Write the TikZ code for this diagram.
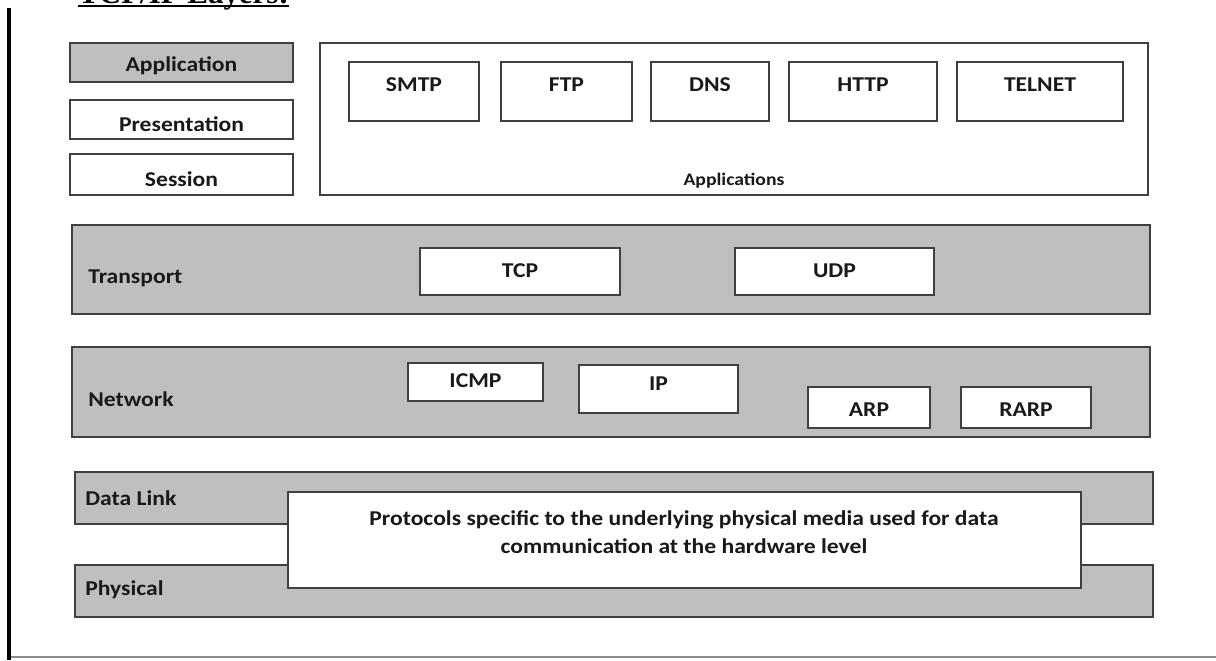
\documentclass[tikz,border=0pt]{standalone}
\usepackage{fontspec}
\setmainfont{Carlito}[FakeStretch=1.12]
\newfontfamily\titlefont{Liberation Serif}
\usetikzlibrary{calc,fit,positioning}
\definecolor{layer-gray}{HTML}{BFBFBF}
\definecolor{layer-edge}{HTML}{404040}
\definecolor{frame-gray}{HTML}{8C8C8C}

\begin{document}
\begin{tikzpicture}[x=0.025cm, y=-0.025cm,
  band/.style={draw=layer-edge, fill=layer-gray, line width=1pt, inner sep=0pt},
  proto/.style={draw=layer-edge, fill=white, line width=0.9pt, inner sep=0pt},
  lbl/.style={font=\fontsize{15}{18}\selectfont\bfseries, text=black!90, inner sep=0pt},
  small lbl/.style={font=\fontsize{12.5}{15}\selectfont\bfseries, text=black!90, inner sep=0pt}]
  \useasboundingbox (0,0) rectangle (1216,660);

  % page frame
  \draw[frame-gray, line width=1pt] (9,657) -- (1216,657);
  \draw[black, line width=2.2pt] (9,8) -- (9,660);

  % title, cut off by the page edge
  \node[anchor=base west, inner sep=0pt, font=\titlefont\fontsize{22}{26}\selectfont\bfseries] (title) at (78,3.5) {TCP/IP Layers:};
  \draw[line width=2pt] ($(title.base west)+(0,2.5)$) -- ($(title.base east)+(0,2.5)$);

  % upper OSI layers
  \node[band, fit={(70,43) (293,82)}] (app) {};
  \node[proto, fit={(70,100) (293,139)}] (pres) {};
  \node[proto, fit={(70,154) (293,195)}] (sess) {};
  \node[lbl] (app-t) at (181.5,66) {Application};
  \node[lbl] (pres-t) at (181.5,124) {Presentation};
  \node[lbl] (sess-t) at (181.5,179.5) {Session};

  % applications
  \node[proto, fit={(320,43) (1148,195)}] (apps) {};
  \node[small lbl] (apps-t) at (734,180.5) {Applications};
  \foreach \name/\xa/\xb/\txt in {smtp/349/479/SMTP, ftp/501/632/FTP, dns/651/769/DNS,
      http/789/937/HTTP, telnet/957/1123/TELNET} {
    \node[proto, fit={(\xa,62) (\xb,121)}] (\name) {};
    \node[lbl] (\name-t) at ($(\name.north)+(0,23.5)$) {\txt};
  }

  % transport
  \node[band, fit={(72,225) (1150,314)}] (transport) {};
  \node[lbl, anchor=west] (transport-t) at (88,278.5) {Transport};
  \node[proto, fit={(420,248) (620,295)}] (tcp) {};
  \node[proto, fit={(735,248) (934,295)}] (udp) {};
  \node[lbl] (tcp-t) at ($(tcp.north)+(0,23.5)$) {TCP};
  \node[lbl] (udp-t) at ($(udp.north)+(0,23.5)$) {UDP};

  % network
  \node[band, fit={(72,347) (1150,437)}] (network) {};
  \node[lbl, anchor=west] (network-t) at (88,399.5) {Network};
  \node[proto, fit={(408,363) (543,401)}] (icmp) {};
  \node[proto, fit={(579,365) (738,413)}] (ip) {};
  \node[proto, fit={(808,387) (930,428)}] (arp) {};
  \node[proto, fit={(961,387) (1091,428)}] (rarp) {};
  \node[lbl] (icmp-t) at ($(icmp.north)+(0,18.5)$) {ICMP};
  \node[lbl] (ip-t) at ($(ip.north)+(0,19)$) {IP};
  \node[lbl] (arp-t) at ($(arp.north)+(0,23.5)$) {ARP};
  \node[lbl] (rarp-t) at ($(rarp.north)+(0,23.5)$) {RARP};

  % data link and physical
  \node[band, fit={(75,472) (1153,524)}] (datalink) {};
  \node[band, fit={(75,565) (1153,617)}] (physical) {};
  \node[lbl, anchor=west] (datalink-t) at (85,498) {Data Link};
  \node[lbl, anchor=west] (physical-t) at (85,589.5) {Physical};
  \node[proto, fit={(288,492) (1081,588)}] (media) {};
  \node[lbl, align=center, font=\fontsize{15}{20}\selectfont\bfseries] (media-t) at (684,532)
    {Protocols specific to the underlying physical media used for data\\ communication at the hardware level};

\end{tikzpicture}
\end{document}
